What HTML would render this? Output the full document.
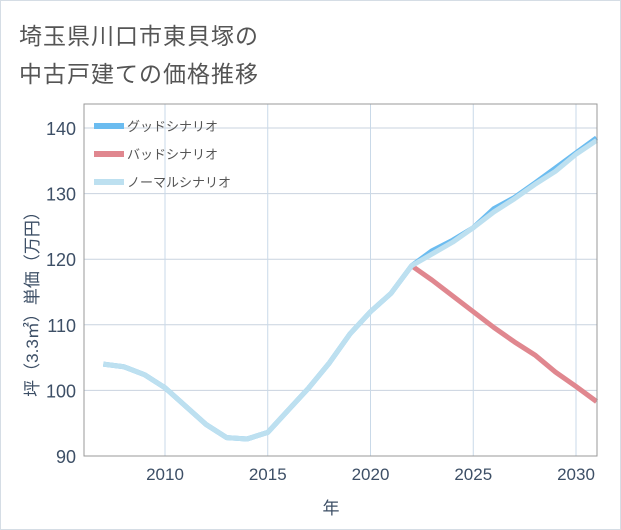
<!DOCTYPE html>
<html><head><meta charset="utf-8"><style>
body{margin:0;background:#fff;font-family:"Liberation Sans","Noto Sans CJK JP",sans-serif}
#wrap{position:relative;width:619px;height:528px;border:1px solid #d5dde5;overflow:hidden;background:#fff}
.title{position:absolute;left:18px;font-size:23px;color:#555;letter-spacing:1px}
</style></head><body>
<div id="wrap">
<div class="title" style="top:16px">埼玉県川口市東貝塚の</div>
<div class="title" style="top:54px">中古戸建ての価格推移</div>
<svg id="chart" width="621" height="530" style="position:absolute;left:-1px;top:-1px"></svg>
</div>
<script>
const years=[2007,2008,2009,2010,2011,2012,2013,2014,2015,2016,2017,2018,2019,2020,2021,2022,2023,2024,2025,2026,2027,2028,2029,2030,2031];
const goodValues=[104,103.6,102.4,100.4,97.6,94.8,92.8,92.6,93.6,97,100.4,104.2,108.6,112,114.8,119,121.3,122.9,124.8,127.7,129.4,131.6,133.9,136.2,138.5];
const normalValues=[104,103.6,102.4,100.4,97.6,94.8,92.8,92.6,93.6,97,100.4,104.2,108.6,112,114.8,119,120.8,122.6,124.8,127.2,129.2,131.4,133.4,136,138.1];
const badYears=[2022,2023,2024,2025,2026,2027,2028,2029,2030,2031];
const badValues=[119,116.8,114.4,112,109.6,107.4,105.4,102.8,100.6,98.3];
const yTicks=[90,100,110,120,130,140];
const xTicks=[2010,2015,2020,2025,2030];
const legendLabels=["グッドシナリオ","バッドシナリオ","ノーマルシナリオ"];
const legendColors=["#6bbcf0","#e0878f","#bde0f0"];

const L=84,R=597,T=104,B=456;
const X=y=>165+(y-2010)*(576-165)/20;
const Y=v=>B-(v-90)*(B-128)/50;
const NS="http://www.w3.org/2000/svg";
const svg=document.getElementById('chart');
function mk(t,a){const e=document.createElementNS(NS,t);for(const k in a)e.setAttribute(k,a[k]);svg.appendChild(e);return e;}

let bg=mk('rect',{x:L,y:T,width:R-L,height:B-T,fill:'#fff',stroke:'#999','stroke-width':1});


yTicks.forEach(v=>{
  let g=mk('line',{x1:L,x2:R,y1:Y(v),y2:Y(v),stroke:'#c9d3df','stroke-width':1});
  
  
  let t=mk('text',{x:L-8,y:Y(v)+7,'text-anchor':'end','font-size':18,fill:'#3d4f66'});
  t.textContent=v;
  
  
});
xTicks.forEach(v=>{
  let g=mk('line',{x1:X(v),x2:X(v),y1:T,y2:B,stroke:'#c9d9e8','stroke-width':1});
  
  
  let t=mk('text',{x:X(v),y:B+24,'text-anchor':'middle','font-size':17,fill:'#3d4f66'});
  t.textContent=v;
  
  
});
function line(xs,vs,color,w,name){
  const p=mk('polyline',{points:xs.map((y,i)=>X(y)+','+Y(vs[i])).join(' '),fill:'none',stroke:color,'stroke-width':w,'stroke-linejoin':'round'});
  
  
}
line(badYears,badValues,legendColors[1],5,'bad-scenario-line');
line(years,goodValues,legendColors[0],5,'good-scenario-line');
line(years,normalValues,legendColors[2],5,'normal-scenario-line');
const cp=mk('rect',{x:L,y:T,width:R-L,height:B-T,fill:'none',stroke:'#999','stroke-width':1});



legendLabels.forEach((s,i)=>{
  const yy=126+i*28;
  let r=mk('rect',{x:94,y:yy-3,width:30,height:6,fill:legendColors[i]});
  
  
  let t=mk('text',{x:127,y:yy+5,'font-size':13,fill:'#555'});
  t.textContent=s;
  
  
});
let yt=mk('text',{x:0,y:0,'font-size':17,fill:'#3d4f66','text-anchor':'middle',transform:'translate(38,300) rotate(-90)'});
yt.textContent='坪（3.3㎡）単価（万円）';


let xt=mk('text',{x:331,y:514,'font-size':17,fill:'#3d4f66','text-anchor':'middle'});
xt.textContent='年';


</script>
</body></html>
